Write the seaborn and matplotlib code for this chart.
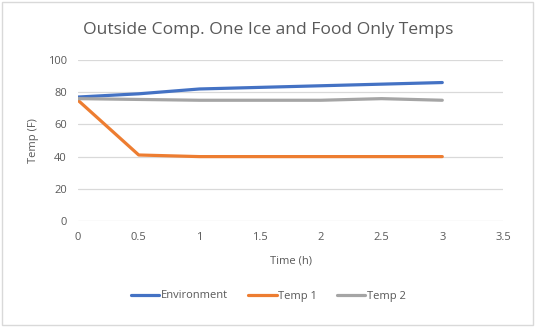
import matplotlib
matplotlib.use("Agg")
import matplotlib.pyplot as plt
import seaborn as sns
import pandas as pd
from matplotlib.patches import Rectangle

time_h = [0, 0.5, 1, 1.5, 2, 2.5, 3]
environment = [77, 79, 82, 83, 84, 85, 86]
temp1 = [75, 41, 40, 40, 40, 40, 40]
temp2 = [76, 75.5, 75, 75, 75, 76, 75]
series_names = ["Environment", "Temp 1", "Temp 2"]
colors = ["#4472C4", "#ED7D31", "#A5A5A5"]

df = pd.DataFrame({"Time (h)": time_h * 3,
                   "Temp (F)": environment + temp1 + temp2,
                   "series": sum([[n] * len(time_h) for n in series_names], [])})

sns.set_theme(style="white")
plt.rcParams['font.family'] = ['Open Sans', 'DejaVu Sans']

fig = plt.figure(figsize=(5.36, 3.27), dpi=100)
ax = fig.add_axes([78/536, 1-221/327, (503-78)/536, (221-60)/327])
sns.lineplot(data=df, x="Time (h)", y="Temp (F)", hue="series",
             palette=colors, linewidth=2.3, ax=ax, legend=False)

ax.set_xlim(0, 3.5)
ax.set_ylim(0, 100)
ax.set_xticks([0, 0.5, 1, 1.5, 2, 2.5, 3, 3.5])
ax.set_xticklabels(["0", "0.5", "1", "1.5", "2", "2.5", "3", "3.5"])
ax.set_yticks([0, 20, 40, 60, 80, 100])
ax.grid(axis="y", color="#D9D9D9", linewidth=0.9)
ax.set_axisbelow(True)
for s in ax.spines.values():
    s.set_visible(False)
ax.tick_params(axis="both", length=0, labelsize=8, labelcolor="#595959", pad=8)
ax.set_xlabel("Time (h)", fontsize=8, color="#595959", labelpad=9)
ax.set_ylabel("Temp (F)", fontsize=8, color="#595959", labelpad=6)
fig.text(0.5, 1-30/327, "Outside Comp. One Ice and Food Only Temps",
         ha="center", va="center", fontsize=12.6, color="#595959")

handles = [plt.Line2D([], [], color=c, linewidth=2.3) for c in colors]
fig.legend(handles, series_names, loc="center", bbox_to_anchor=(0.5, 1-296/327),
           ncol=3, frameon=False, fontsize=8, handlelength=2.6, handletextpad=0.1,
           columnspacing=1.8, labelcolor="#595959")

fig.patches.append(Rectangle((0.003, 0.005), 0.992, 0.99, transform=fig.transFigure,
                             fill=False, edgecolor="#D9D9D9", linewidth=1))
fig.savefig("out.png", dpi=100, facecolor="white")
